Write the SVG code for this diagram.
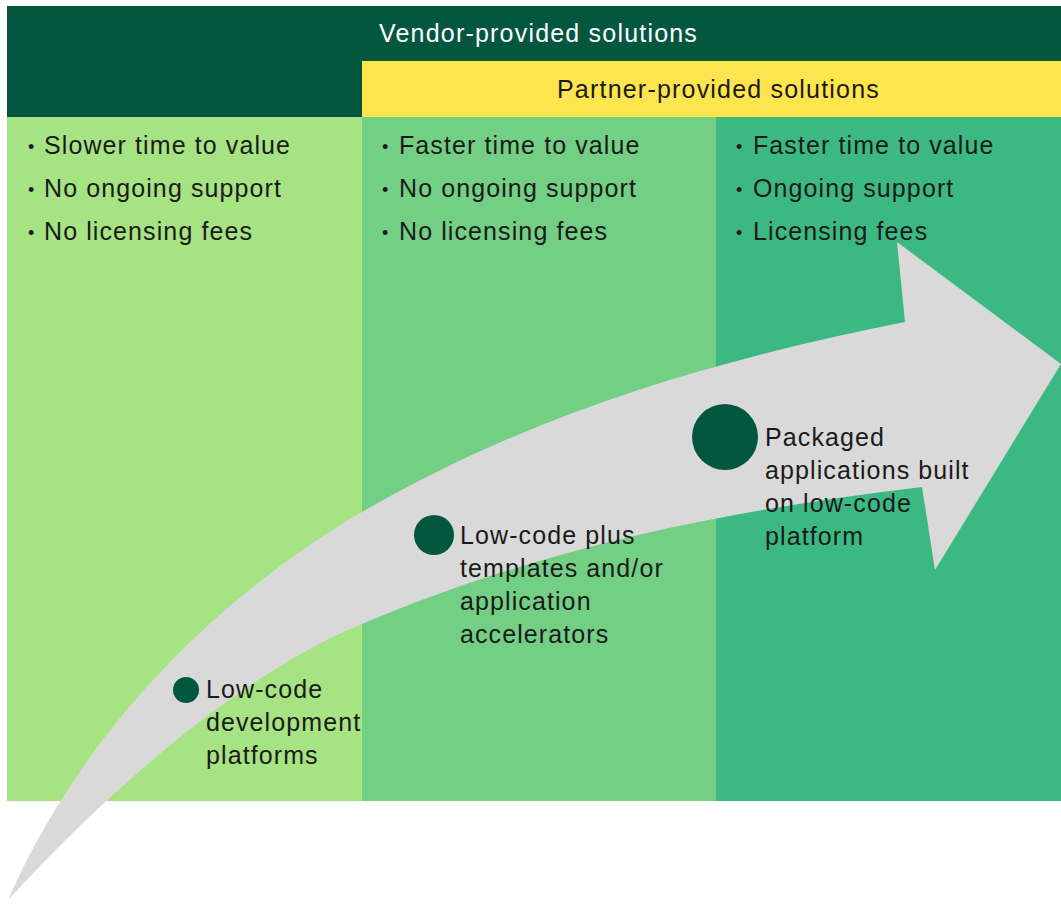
<svg xmlns="http://www.w3.org/2000/svg" width="1061" height="905" viewBox="0 0 1061 905">
  <style>
    .t { font-family: "Liberation Sans", Arial, sans-serif; font-size: 25px; letter-spacing: 1.1px; fill: #1a1a1a; }
    .b { font-family: "Liberation Sans", Arial, sans-serif; font-size: 18px; fill: #1a1a1a; }
    .hw { font-family: "Liberation Sans", Arial, sans-serif; font-size: 25px; letter-spacing: 1.2px; fill: #ffffff; }
    .hd { font-family: "Liberation Sans", Arial, sans-serif; font-size: 25px; letter-spacing: 1.2px; fill: #1a1a1a; }
    .dot { fill: #03573f; }
  </style>
  <rect width="1061" height="905" fill="#ffffff"/>

  <!-- columns -->
  <g id="columns">
    <rect x="7" y="117" width="355" height="684" fill="#a6e383"/>
    <rect x="362" y="117" width="354" height="684" fill="#72cf84"/>
    <rect x="716" y="117" width="345" height="684" fill="#3cb983"/>
  </g>

  <!-- header bands -->
  <g id="vendor">
    <rect x="7" y="6" width="1054" height="111" fill="#03573f"/>
    <text class="hw" x="379" y="42">Vendor-provided solutions</text>
  </g>
  <g id="partner">
    <rect x="362" y="61" width="699" height="56" fill="#ffe54d"/>
    <text class="hd" x="557" y="98">Partner-provided solutions</text>
  </g>

  <!-- bullet lists -->
  <g id="list-1">
    <text class="b" x="28" y="153">•</text><text class="t" x="44" y="154">Slower time to value</text>
    <text class="b" x="28" y="196">•</text><text class="t" x="44" y="197">No ongoing support</text>
    <text class="b" x="28" y="239">•</text><text class="t" x="44" y="240">No licensing fees</text>
  </g>
  <g id="list-2">
    <text class="b" x="382" y="153">•</text><text class="t" x="399" y="154">Faster time to value</text>
    <text class="b" x="382" y="196">•</text><text class="t" x="399" y="197">No ongoing support</text>
    <text class="b" x="382" y="239">•</text><text class="t" x="399" y="240">No licensing fees</text>
  </g>
  <g id="list-3">
    <text class="b" x="736" y="153">•</text><text class="t" x="753" y="154">Faster time to value</text>
    <text class="b" x="736" y="196">•</text><text class="t" x="753" y="197">Ongoing support</text>
    <text class="b" x="736" y="239">•</text><text class="t" x="753" y="240">Licensing fees</text>
  </g>

  <!-- connectors: curved progression arrow -->
  <g id="connectors">
    <path d="M 8 900
             C 98 695, 262 570, 362 512
             C 542 408, 725 358, 905 322
             L 897 242 L 1061 364 L 935 570 L 922 487
             C 732 510, 552 544, 362 624
             C 242 674, 118 781, 8 900 Z" fill="#d9d9d9"/>
  </g>

  <!-- stages -->
  <g id="stage-1">
    <circle class="dot" cx="186" cy="690" r="13"/>
    <text class="t" x="206" y="698">Low-code</text>
    <text class="t" x="206" y="731">development</text>
    <text class="t" x="206" y="764">platforms</text>
  </g>
  <g id="stage-2">
    <circle class="dot" cx="434" cy="535" r="20"/>
    <text class="t" x="460" y="544">Low-code plus</text>
    <text class="t" x="460" y="577">templates and/or</text>
    <text class="t" x="460" y="610">application</text>
    <text class="t" x="460" y="643">accelerators</text>
  </g>
  <g id="stage-3">
    <circle class="dot" cx="725" cy="437" r="33"/>
    <text class="t" x="765" y="446">Packaged</text>
    <text class="t" x="765" y="479">applications built</text>
    <text class="t" x="765" y="512">on low-code</text>
    <text class="t" x="765" y="545">platform</text>
  </g>
</svg>
